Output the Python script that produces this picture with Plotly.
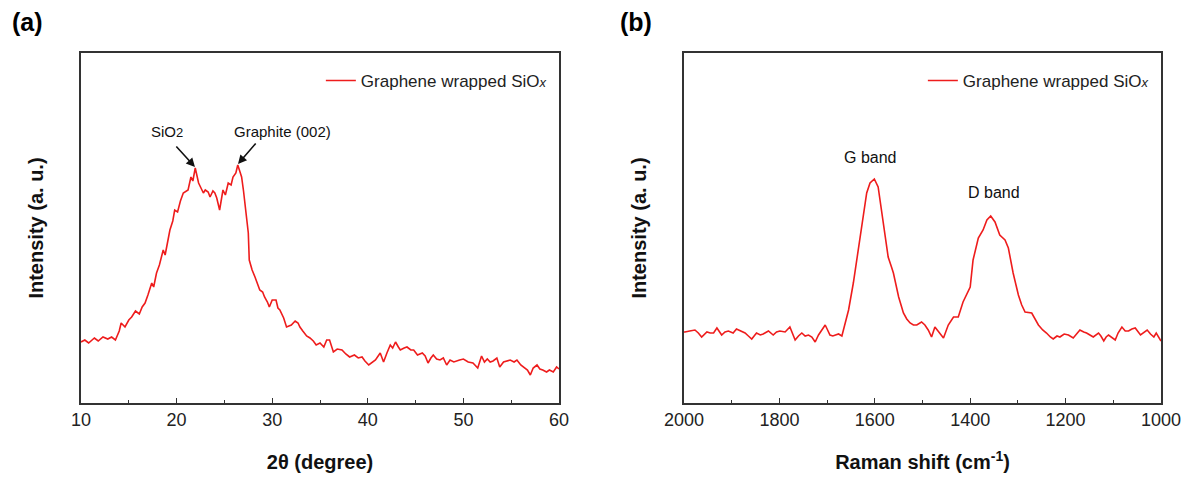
import plotly.graph_objects as go

# ---------------- data (a) XRD ----------------
xrd_2theta = [10.0, 10.4, 10.8, 11.4, 11.8, 12.3, 12.8, 13.2, 13.6, 14.0, 14.2, 14.6, 15.0, 15.3, 15.7,
              16.1, 16.4, 16.7, 17.0, 17.4, 17.6, 17.9, 18.2, 18.6, 18.8, 19.1, 19.3, 19.6, 19.8, 20.1,
              20.4, 20.7, 21.0, 21.2, 21.5, 21.7, 21.95, 22.1, 22.3, 22.6, 22.8, 23.0, 23.3, 23.5, 23.8,
              24.0, 24.2, 24.5, 24.7, 24.85, 25.1, 25.4, 25.7, 25.9, 26.2, 26.4, 26.6, 26.8, 27.0, 27.1,
              27.3, 27.5, 27.6, 27.9, 28.2, 28.5, 28.7, 29.0, 29.2, 29.5, 29.7, 30.0, 30.4, 30.6, 30.8,
              31.2, 31.5, 32.0, 32.4, 32.7, 32.9, 33.2, 33.6, 33.95, 34.3, 34.6, 35.0, 35.4, 35.7, 36.0,
              36.2, 36.4, 36.8, 37.3, 37.7, 38.1, 38.6, 39.0, 39.4, 39.7, 40.1, 40.5, 40.8, 41.3, 41.65,
              42.0, 42.35, 42.6, 42.9, 43.2, 43.4, 43.8, 44.1, 44.5, 44.8, 45.2, 45.7, 46.0, 46.3, 46.6,
              46.85, 47.2, 47.55, 47.9, 48.25, 48.6, 49.0, 49.6, 50.0, 50.5, 51.0, 51.5, 51.9, 52.2, 52.5,
              52.8, 53.1, 53.5, 53.8, 54.2, 54.6, 54.9, 55.3, 55.6, 56.0, 56.3, 56.7, 57.0, 57.3, 57.7,
              58.0, 58.3, 58.7, 59.0, 59.4, 59.75, 60.0]
xrd_intensity = [61, 63, 60, 65, 62, 66, 64, 66, 63, 72, 80, 76, 83, 86, 92,
                 89, 96, 100, 108, 120, 116, 130, 138, 153, 148, 162, 173, 182, 193, 191,
                 202, 210, 212, 213, 226, 222, 235, 229, 220, 214, 210, 213, 211, 206, 212,
                 210, 205, 193, 205, 213, 208, 220, 218, 226, 230, 238, 232, 226, 212, 203,
                 185, 170, 143, 133, 126, 118, 113, 111, 106, 101, 96, 103, 103, 95, 93,
                 85, 76, 78, 82, 80, 76, 72, 67, 65, 62, 58, 60, 56, 63, 63,
                 57, 51, 54, 53, 49, 46, 48, 45, 46, 42, 38, 41, 43, 50, 41,
                 50, 58, 55, 61, 56, 53, 55, 56, 53, 53, 48, 50, 47, 40, 45,
                 48, 44, 43, 45, 38, 43, 41, 43, 44, 41, 40, 35, 47, 41, 44,
                 41, 42, 45, 36, 41, 42, 43, 41, 43, 38, 36, 33, 28, 35, 38,
                 34, 33, 31, 33, 31, 36, 34]

# ---------------- data (b) Raman ----------------
raman_shift = [2000, 1998, 1988, 1977, 1970, 1963, 1952, 1945, 1938, 1931, 1921, 1914, 1907, 1897, 1890,
               1880, 1872, 1865, 1858, 1848, 1840, 1834, 1823, 1813, 1806, 1799, 1788, 1778, 1773, 1767,
               1760, 1753, 1746, 1739, 1732, 1725, 1718, 1712, 1704, 1699, 1694, 1688, 1683, 1676, 1669,
               1662, 1655, 1645, 1635, 1624, 1617, 1610, 1601, 1593, 1586, 1579, 1572, 1565, 1561, 1550,
               1540, 1533, 1526, 1519, 1512, 1502, 1495, 1488, 1481, 1474, 1465, 1456, 1446, 1435, 1425,
               1415, 1400, 1394, 1383, 1373, 1365, 1357, 1348, 1338, 1327, 1320, 1310, 1299, 1292, 1285,
               1271, 1257, 1248, 1240, 1232, 1226, 1218, 1212, 1203, 1194, 1184, 1176, 1170, 1162, 1156,
               1149, 1142, 1131, 1126, 1120, 1115, 1110, 1103, 1096, 1090, 1082, 1075, 1068, 1061, 1054,
               1043, 1036, 1029, 1022, 1015, 1010, 1005, 1000]
raman_intensity = [71, 71, 72, 73, 70, 66, 71, 70, 70, 75, 68, 71, 72, 70, 74,
                   72, 70, 67, 64, 70, 68, 69, 72, 68, 71, 72, 71, 76, 70, 63,
                   67, 70, 67, 68, 66, 61, 68, 72, 78, 73, 68, 67, 68, 69, 67,
                   80, 93, 120, 153, 186, 210, 220, 224, 216, 193, 170, 146, 136, 130, 106,
                   90, 84, 80, 78, 78, 81, 78, 73, 66, 76, 71, 65, 78, 86, 86,
                   101, 116, 143, 165, 173, 183, 187, 181, 168, 163, 155, 130, 108, 98, 91,
                   90, 78, 73, 70, 66, 64, 67, 66, 69, 68, 65, 70, 73, 71, 70,
                   68, 66, 70, 67, 62, 66, 68, 65, 63, 70, 76, 72, 72, 74, 75,
                   68, 71, 73, 69, 66, 70, 66, 62]

series_name = "Graphene wrapped SiO<i><span style='font-size:13px'>x</span></i>"

FONT = "Arial, Liberation Sans, sans-serif"
RED = "#ee1c1c"
AX = "#333333"

fig = go.Figure()
fig.add_trace(go.Scatter(x=xrd_2theta, y=xrd_intensity, mode="lines", name=series_name,
                         line=dict(color=RED, width=1.6), xaxis="x", yaxis="y", legend="legend"))
fig.add_trace(go.Scatter(x=raman_shift, y=raman_intensity, mode="lines", name=series_name,
                         line=dict(color=RED, width=1.6), xaxis="x2", yaxis="y2", legend="legend2"))

W, H = 1190, 477
dom_a = [81 / W, 559 / W]
dom_b = [684 / W, 1161 / W]
dom_y = [74 / H, 424 / H]

xcommon = dict(showline=True, linecolor=AX, linewidth=1.5, mirror=True, ticks="inside", ticklen=5,
               tickcolor=AX, tickwidth=1.2, showgrid=False, zeroline=False, automargin=False,
               tickfont=dict(family=FONT, size=18, color="#222"),
               minor=dict(ticks="inside", ticklen=3, tickcolor=AX, tickwidth=1))
ycommon = dict(showline=True, linecolor=AX, linewidth=1.5, mirror=True, ticks="", showticklabels=False,
               showgrid=False, zeroline=False, range=[0, 350], automargin=False)

fig.update_layout(
    width=W, height=H, margin=dict(l=0, r=0, t=0, b=0, autoexpand=False),
    paper_bgcolor="white", plot_bgcolor="white",
    xaxis=dict(domain=dom_a, range=[10, 60], dtick=10, tick0=10, minor_dtick=5,
               title=dict(text="<b>2θ (degree)</b>", font=dict(family=FONT, size=20, color="#111"), standoff=26),
               **xcommon),
    yaxis=dict(domain=dom_y, anchor="x",
               title=dict(text="<b>Intensity (a. u.)</b>", font=dict(family=FONT, size=20, color="#111"), standoff=30),
               **ycommon),
    xaxis2=dict(domain=dom_b, range=[2000, 1000], dtick=200, tick0=1000, minor_dtick=100, anchor="y2",
                title=dict(text="<b>Raman shift (cm<sup>-1</sup>)</b>", font=dict(family=FONT, size=20, color="#111"), standoff=26),
                **xcommon),
    yaxis2=dict(domain=dom_y, anchor="x2",
                title=dict(text="<b>Intensity (a. u.)</b>", font=dict(family=FONT, size=20, color="#111"), standoff=30),
                **ycommon),
    legend=dict(x=dom_a[1] - 0.006, xanchor="right", y=(H - 63) / H, yanchor="top",
                bgcolor="rgba(0,0,0,0)", font=dict(family=FONT, size=17, color="#222")),
    legend2=dict(x=dom_b[1] - 0.006, xanchor="right", y=(H - 63) / H, yanchor="top",
                 bgcolor="rgba(0,0,0,0)", font=dict(family=FONT, size=17, color="#222")),
    showlegend=True,
)

ann_font = dict(family=FONT, size=15, color="#111")
annotations = [
    dict(text="<b>(a)</b>", x=27 / W, y=(H - 22) / H, xref="paper", yref="paper", showarrow=False,
         xanchor="center", yanchor="middle", font=dict(family=FONT, size=25, color="#000")),
    dict(text="<b>(b)</b>", x=636 / W, y=(H - 22) / H, xref="paper", yref="paper", showarrow=False,
         xanchor="center", yanchor="middle", font=dict(family=FONT, size=25, color="#000")),
    dict(text="SiO<span style='font-size:13px'>2</span>", x=19.0, y=272, xref="x", yref="y", showarrow=False, font=ann_font),
    dict(text="Graphite (002)", x=31.1, y=272, xref="x", yref="y", showarrow=False, font=ann_font),
    dict(text="", x=21.92, y=236, xref="x", yref="y", ax=-20, ay=-22, showarrow=True,
         arrowhead=2, arrowsize=1.1, arrowwidth=1.6, arrowcolor="#111"),
    dict(text="", x=26.42, y=239, xref="x", yref="y", ax=19, ay=-22, showarrow=True,
         arrowhead=2, arrowsize=1.1, arrowwidth=1.6, arrowcolor="#111"),
    dict(text="G band", x=1610, y=246, xref="x2", yref="y2", showarrow=False, font=dict(family=FONT, size=16, color="#111")),
    dict(text="D band", x=1350, y=211, xref="x2", yref="y2", showarrow=False, font=dict(family=FONT, size=16, color="#111")),
]
fig.update_layout(annotations=annotations)

fig.write_html("out.html", config={"displayModeBar": False},
               post_script="document.body.style.margin='0';document.body.style.padding='0';")
